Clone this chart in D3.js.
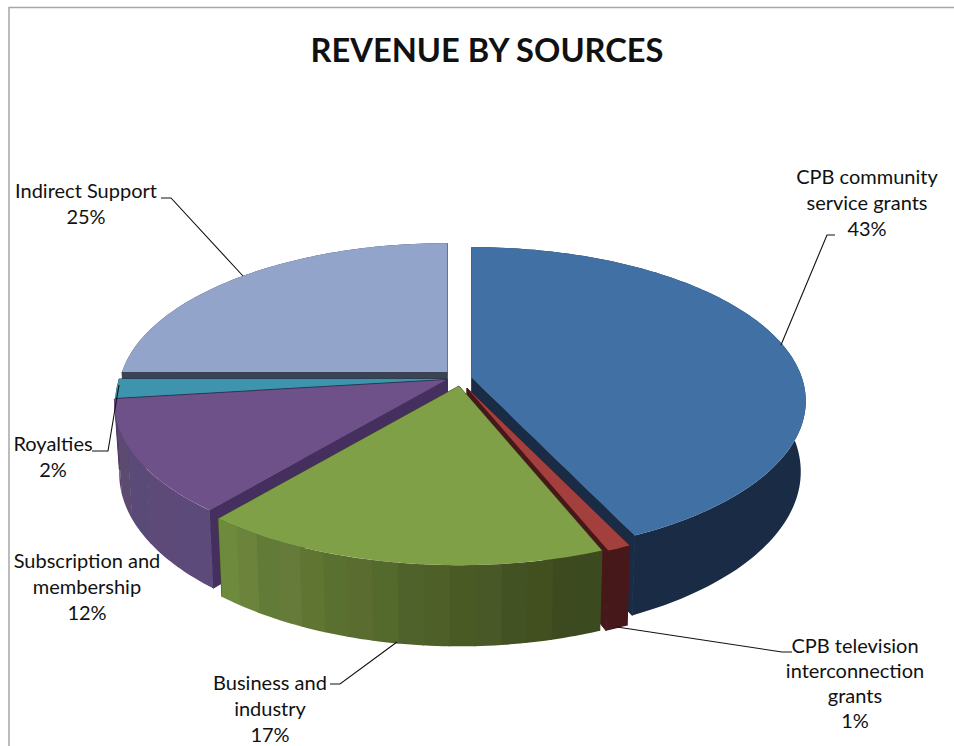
<!DOCTYPE html>
<html>
<head>
<meta charset="utf-8">
<script src="https://cdn.jsdelivr.net/npm/d3@7"></script>
<style>
	html, body { margin: 0; padding: 0; background: #fff; overflow: hidden; }
	svg { display: block; }
	text { font-family: Lato, "Open Sans", sans-serif; fill: #111; }
</style>
</head>
<body>
<svg width="954" height="746"></svg>
<script>
const categories = [
	"CPB community service grants",
	"CPB television interconnection grants",
	"Business and industry",
	"Subscription and membership",
	"Royalties",
	"Indirect Support",
];
const shares = [43, 1, 17, 12, 2, 25];

const topColors = ["#4171a4", "#a33f3d", "#80a048", "#6f5189", "#3e93ad", "#93a4cb"];
const sideColors = ["#1a2b45", "#47181a", "#3f4d20", "#452f5e", "#123f4a", "#3b4355"];

// excel paints the outer wall in uneven bands, read left to right off the picture
const greenBands = ["#6e8a3d", "#6c833c", "#627c38", "#667a39", "#617532", "#5a7030", "#5a6c2f", "#546a2c", "#4f622c", "#4e5f28", "#495a24", "#485826", "#425223", "#42501f", "#3d4a20", "#3c4a1f"];
const purpleBands = ["#5e3f72", "#5c4a70", "#5a4a78", "#5e4a78", "#5c4a7a"];

// where each slice's tip sits relative to the pie centre, and its radius
const tipOffsets = [[13, -2], [8, 8], [0, 6], [-13, 0], [-12, -1], [-12, -8]];
const radii = [330, 330, 334, 328, 328, 325];

const labelLines = [
	{ x: 867, ys: [184, 210, 236], lines: ["CPB community", "service grants", "43%"] },
	{ x: 855, ys: [653, 678, 703, 728], lines: ["CPB television", "interconnection", "grants", "1%"] },
	{ x: 270, ys: [690, 716, 742], lines: ["Business and", "industry", "17%"] },
	{ x: 87, ys: [568, 594, 620], lines: ["Subscription and", "membership", "12%"] },
	{ x: 53, ys: [451, 477], lines: ["Royalties", "2%"] },
	{ x: 86, ys: [198, 224], lines: ["Indirect Support", "25%"] },
];
const leaders = [
	[[835, 235], [827, 235], [781, 345]],
	[[792, 652], [782, 652], [617, 627]],
	[[330, 684], [340, 684], [397, 642]],
	[[92, 451], [108, 451], [119, 385]],
	[[161, 198], [171, 198], [243, 276]],
];

const cx = 459;
const cy = 380;
const tilt = 0.456; // vertical squash of the disc
const persp = 0.15; // front of the disc comes nearer
const depth = 69; // wall height
const bottomShrink = 0.985;

const svg = d3.select("svg");

// frame
svg.append("path")
	.attr("d", "M9,746V7.5H954")
	.attr("fill", "none")
	.attr("stroke", "#a6a6a6")
	.attr("stroke-width", 1.5);

svg.append("text")
	.attr("x", 487)
	.attr("y", 62)
	.attr("text-anchor", "middle")
	.attr("font-size", 33)
	.attr("font-weight", 700)
	.attr("textLength", 353)
	.attr("lengthAdjust", "spacingAndGlyphs")
	.text("REVENUE BY SOURCES");

const pie = d3.pie().sort(null);
const slices = pie(shares).map((d, i) => ({ ...d, i }));

// angle is clockwise from the top, r goes 0..1, z is 0 on top and 1 on the bottom
function project(slice, angle, r, z) {
	const X = Math.sin(angle) * r;
	const Y = -Math.cos(angle) * r;
	const f = 1 / (1 - persp * Y);
	const R = radii[slice.i];
	const tipX = cx + tipOffsets[slice.i][0];
	const tipY = cy + tipOffsets[slice.i][1];
	const shrink = z ? bottomShrink : 1;
	return [
		tipX + X * R * f * shrink,
		tipY + Y * tilt * R * f + z * depth * f,
	];
}

function anglesBetween(a0, a1) {
	const n = Math.max(2, Math.ceil((a1 - a0) / 0.02));
	return d3.range(n + 1).map((k) => a0 + ((a1 - a0) * k) / n);
}

const line = d3.line();

function topPath(s) {
	const rim = anglesBetween(s.startAngle, s.endAngle).map((a) => project(s, a, 1, 0));
	return line([project(s, 0, 0, 0), ...rim]) + "Z";
}

function radialWall(s, a) {
	return line([
		project(s, a, 0, 0),
		project(s, a, 1, 0),
		project(s, a, 1, 1),
		project(s, a, 0, 1),
	]) + "Z";
}

function outerWall(s, a0, a1) {
	const angles = anglesBetween(a0, a1);
	const up = angles.map((a) => project(s, a, 1, 0));
	const down = angles.slice().reverse().map((a) => project(s, a, 1, 1));
	return line([...up, ...down]) + "Z";
}

function wallBands(s) {
	let bands = [sideColors[s.i]];
	if (s.i === 2) bands = greenBands.slice().reverse();
	if (s.i === 3) bands = purpleBands.slice().reverse();
	const step = (s.endAngle - s.startAngle) / bands.length;
	return bands.map((color, k) => ({
		color,
		a0: s.startAngle + step * k,
		a1: s.startAngle + step * (k + 1) + (k < bands.length - 1 ? 0.004 : 0),
	}));
}

// back to front
const drawOrder = slices.slice().sort((a, b) => {
	const ya = -Math.cos((a.startAngle + a.endAngle) / 2);
	const yb = -Math.cos((b.startAngle + b.endAngle) / 2);
	return ya - yb;
});

const pieces = svg.selectAll(".slice")
	.data(drawOrder)
	.enter()
	.append("g")
	.classed("slice", true);

pieces.each(function (s) {
	const g = d3.select(this);
	[s.startAngle, s.endAngle].forEach((a) => {
		g.append("path")
			.attr("d", radialWall(s, a))
			.attr("fill", sideColors[s.i])
			.attr("stroke", sideColors[s.i])
			.attr("stroke-width", 1);
	});
	g.selectAll(".band")
		.data(wallBands(s))
		.enter()
		.append("path")
		.classed("band", true)
		.attr("d", (b) => outerWall(s, b.a0, b.a1))
		.attr("fill", (b) => b.color);
	g.append("path")
		.attr("d", topPath(s))
		.attr("fill", topColors[s.i]);
});

svg.selectAll(".leader")
	.data(leaders)
	.enter()
	.append("path")
	.classed("leader", true)
	.attr("d", (d) => line(d))
	.attr("fill", "none")
	.attr("stroke", "#111")
	.attr("stroke-width", 1.1);

const labels = svg.selectAll(".label")
	.data(labelLines)
	.enter()
	.append("g")
	.classed("label", true);

labels.each(function (d) {
	d3.select(this)
		.selectAll("text")
		.data(d.lines)
		.enter()
		.append("text")
		.attr("x", d.x)
		.attr("y", (t, k) => d.ys[k])
		.attr("text-anchor", "middle")
		.attr("font-size", 20)
		.text((t) => t);
});
</script>
</body>
</html>
